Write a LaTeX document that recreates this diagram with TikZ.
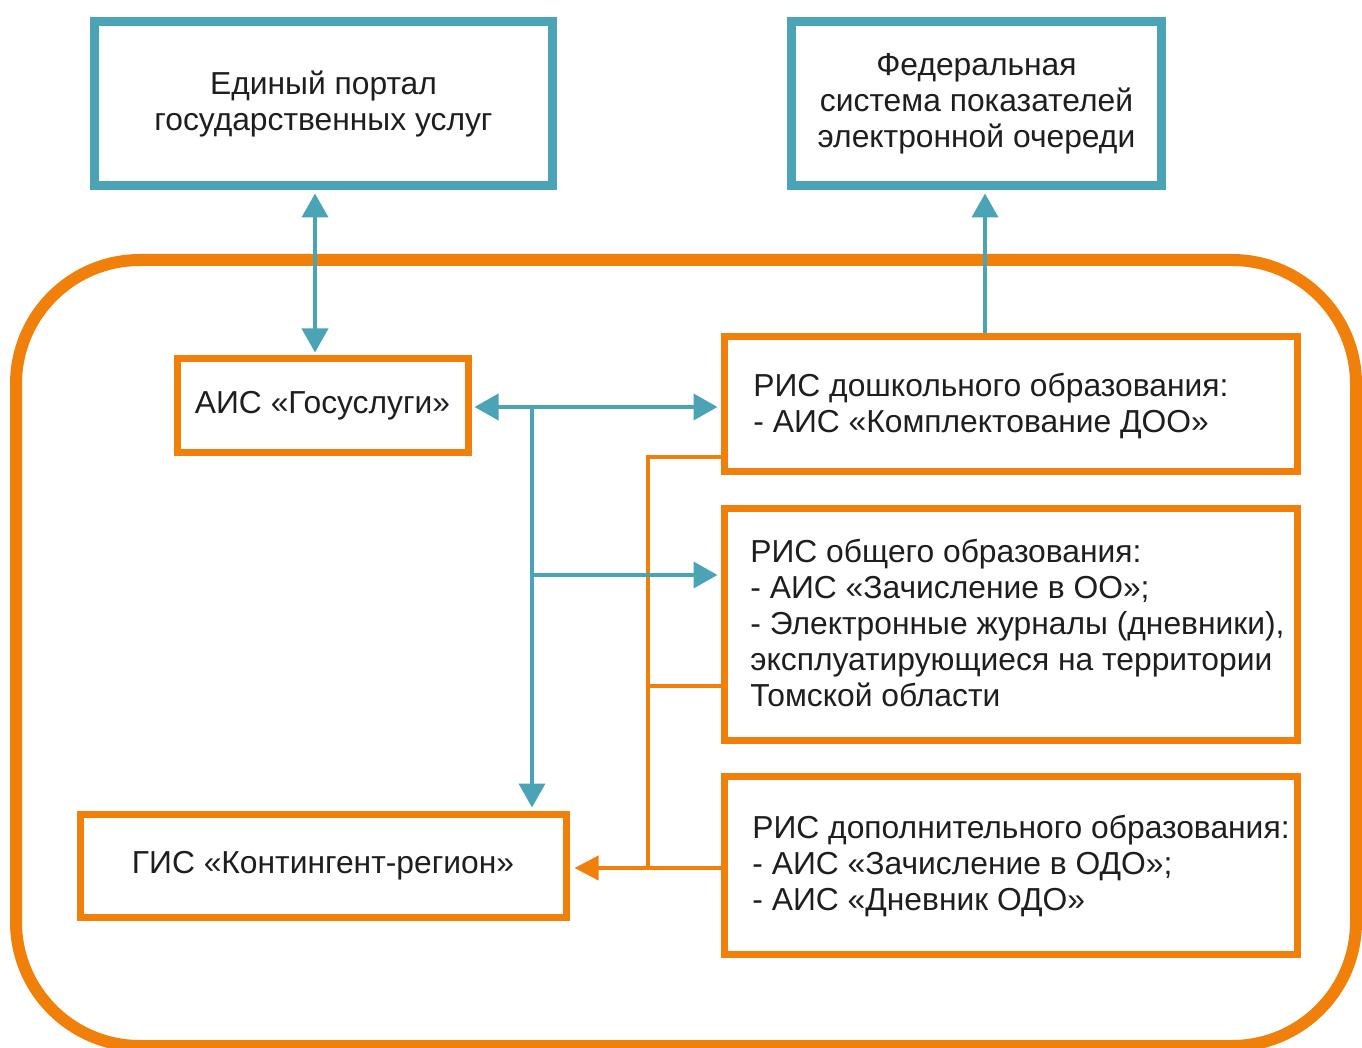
\documentclass[tikz,border=0pt]{standalone}
\usepackage{fontspec}
\setmainfont{Liberation Sans}
\usetikzlibrary{arrows.meta,calc}
\definecolor{tealc}{RGB}{75,163,182}
\definecolor{orng}{RGB}{240,128,10}
\definecolor{txt}{RGB}{30,30,30}
\begin{document}
\begin{tikzpicture}[x=0.5pt,y=-0.5pt,
  fnt/.style={font=\fontsize{15.9}{18}\selectfont, text=txt},
  tbox/.style={draw=tealc, line width=4.5pt, inner sep=0pt, align=center, fnt},
  obox/.style={draw=orng, line width=3.5pt, inner sep=0pt, align=center, fnt},
  lbl/.style={anchor=west, align=left, inner sep=0pt, fnt},
  tl/.style={draw=tealc, line width=2pt},
  ol/.style={draw=orng, line width=2pt, line join=miter},
  tarrow/.style={-{Triangle[length=12pt,width=13pt]}, shorten >=1.5pt},
  tboth/.style={{Triangle[length=12pt,width=13pt]}-{Triangle[length=12pt,width=13pt]}, shorten >=1.5pt, shorten <=1.5pt},
  oarrow/.style={-{Triangle[length=12pt,width=12pt]}, shorten >=2.5pt}
]
\useasboundingbox (0,0) rectangle (1362,1048);

% container
\draw[orng, line width=6pt, rounded corners=62pt] (16,260) rectangle (1356,1046);

% top boxes
\node[tbox, minimum width=229pt, minimum height=82pt] (epgu) at (323.5,104)
  {Единый портал\\государственных услуг};
\node[tbox, minimum width=185pt, minimum height=82pt] (fed) at (976.5,104)
  {Федеральная\\система показателей\\электронной очереди};

% inner boxes
\node[obox, minimum width=145.5pt, minimum height=47pt] (aisgos) at (322.5,406)
  {АИС «Госуслуги»};
\node[obox, minimum width=243pt, minimum height=51.5pt] (gis) at (323,865.5)
  {ГИС «Контингент-регион»};
\node[obox, minimum width=286.5pt, minimum height=67.5pt] (risdosh) at (1010.5,404.5) {};
\node[obox, minimum width=286.5pt, minimum height=115.5pt] (risobsh) at (1010.5,624.5) {};
\node[obox, minimum width=286.5pt, minimum height=89pt] (risdop) at (1010.5,865) {};

\node[lbl] (risdosh-t) at (753,406)
  {РИС дошкольного образования:\\- АИС «Комплектование ДОО»};
\node[lbl] (risobsh-t) at (750,623)
  {РИС общего образования:\\- АИС «Зачисление в ОО»;\\- Электронные журналы (дневники),\\эксплуатирующиеся на территории\\Томской области};
\node[lbl] (risdop-t) at (752,866)
  {РИС дополнительного образования:\\- АИС «Зачисление в ОДО»;\\- АИС «Дневник ОДО»};

% coordinates
\coordinate (cA) at (315,0);
\coordinate (cF) at (985,0);
\coordinate (yH) at (0,407);
\coordinate (jn) at (532,407);
\coordinate (jn2) at (532,575);
\coordinate (ob1) at (648,457);
\coordinate (ob2) at (648,686);
\coordinate (ob3) at (648,868);

% orange connectors
\draw[ol] (risdosh.west |- ob1) -- (ob1) -- (ob3);
\draw[ol] (risobsh.west |- ob2) -- (ob2);
\draw[ol, oarrow, fill=orng] (risdop.west |- ob3) -- (gis.east |- ob3);

% teal connectors
\draw[tl, tboth, fill=tealc] (epgu.south -| cA) -- (aisgos.north -| cA);
\draw[tl, tarrow, fill=tealc] (risdosh.north -| cF) -- (fed.south -| cF);
\draw[tl, tboth, fill=tealc] (aisgos.east |- yH) -- (risdosh.west |- yH);
\draw[tl, tarrow, fill=tealc] (jn) -- (gis.north -| jn);
\draw[tl, tarrow, fill=tealc] (jn2) -- (risobsh.west |- jn2);
\end{tikzpicture}
\end{document}
